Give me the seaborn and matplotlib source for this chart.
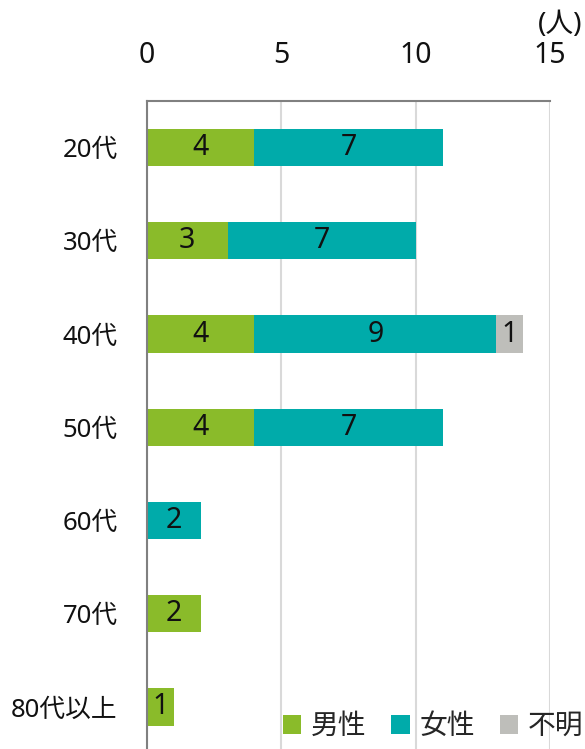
import matplotlib
matplotlib.use("Agg")
import matplotlib.pyplot as plt
from matplotlib.patches import Patch
import numpy as np
import pandas as pd
import seaborn as sns

# Respondents by age group and gender
categories = ["20代", "30代", "40代", "50代", "60代", "70代", "80代以上"]
male = [4, 3, 4, 4, 0, 2, 1]
female = [7, 7, 9, 7, 2, 0, 0]
unknown = [0, 0, 1, 0, 0, 0, 0]
series_names = ["男性", "女性", "不明"]
series_colors = ["#8ABB2A", "#00ABAA", "#BEBEBA"]
x_ticks = [0, 5, 10, 15]
unit_label = "(人)"

sns.set_theme(style="white")
plt.rcParams["font.family"] = ["Noto Sans", "Noto Sans CJK JP", "DejaVu Sans"]

fig = plt.figure(figsize=(5.85, 7.49), dpi=100)
ax = fig.add_axes([0.2513, -0.0061, 0.6889, 0.8713])

df = pd.DataFrame({"cat": categories, "男性": male, "女性": female, "不明": unknown})
values = df[series_names].to_numpy(dtype=float)
cum = np.cumsum(values, axis=1)

# Stacked bars: draw cumulative totals from the outermost segment inward
for i in reversed(range(len(series_names))):
    sns.barplot(x=cum[:, i], y=df["cat"], orient="h", color=series_colors[i],
                width=0.4, linewidth=0, saturation=1, ax=ax, zorder=3)

# Segment value labels
for r in range(len(categories)):
    start = 0.0
    for i in range(len(series_names)):
        v = values[r, i]
        if v > 0:
            ax.text(start + v / 2, r, f"{int(v)}", ha="center", va="center",
                    fontsize=20.5, color="#111111", zorder=4)
        start += v

ax.set_xlim(0, 15)
ax.set_ylim(6.5, -0.5)
ax.set_xticks(x_ticks)
ax.set_xticklabels([str(t) for t in x_ticks])
ax.xaxis.tick_top()
ax.tick_params(axis="x", length=0, pad=22, labelsize=20.5, labelcolor="#111111")
ax.tick_params(axis="y", length=0, pad=21, labelsize=18.5, labelcolor="#111111")
ax.set_xlabel("")
ax.set_ylabel("")

ax.grid(axis="x", color="#D9D9D9", linewidth=1.5, zorder=0)
ax.set_axisbelow(True)
for side in ["right", "bottom"]:
    ax.spines[side].set_visible(False)
for side in ["top", "left"]:
    ax.spines[side].set_color("#808080")
    ax.spines[side].set_linewidth(1.5)
    ax.spines[side].set_zorder(5)

fig.text(582 / 585, 1 - 25 / 749, unit_label, ha="right", va="center",
         fontsize=20, color="#111111")

handles = [Patch(facecolor=c, edgecolor="none") for c in series_colors]
leg = fig.legend(handles, series_names, loc="center right",
                 bbox_to_anchor=(583 / 585, 1 - 727 / 749), ncol=3, frameon=False,
                 fontsize=20, handlelength=0.65, handleheight=0.65,
                 handletextpad=0.35, columnspacing=0.9, borderaxespad=0,
                 borderpad=0)

fig.savefig("out.png", dpi=100)
